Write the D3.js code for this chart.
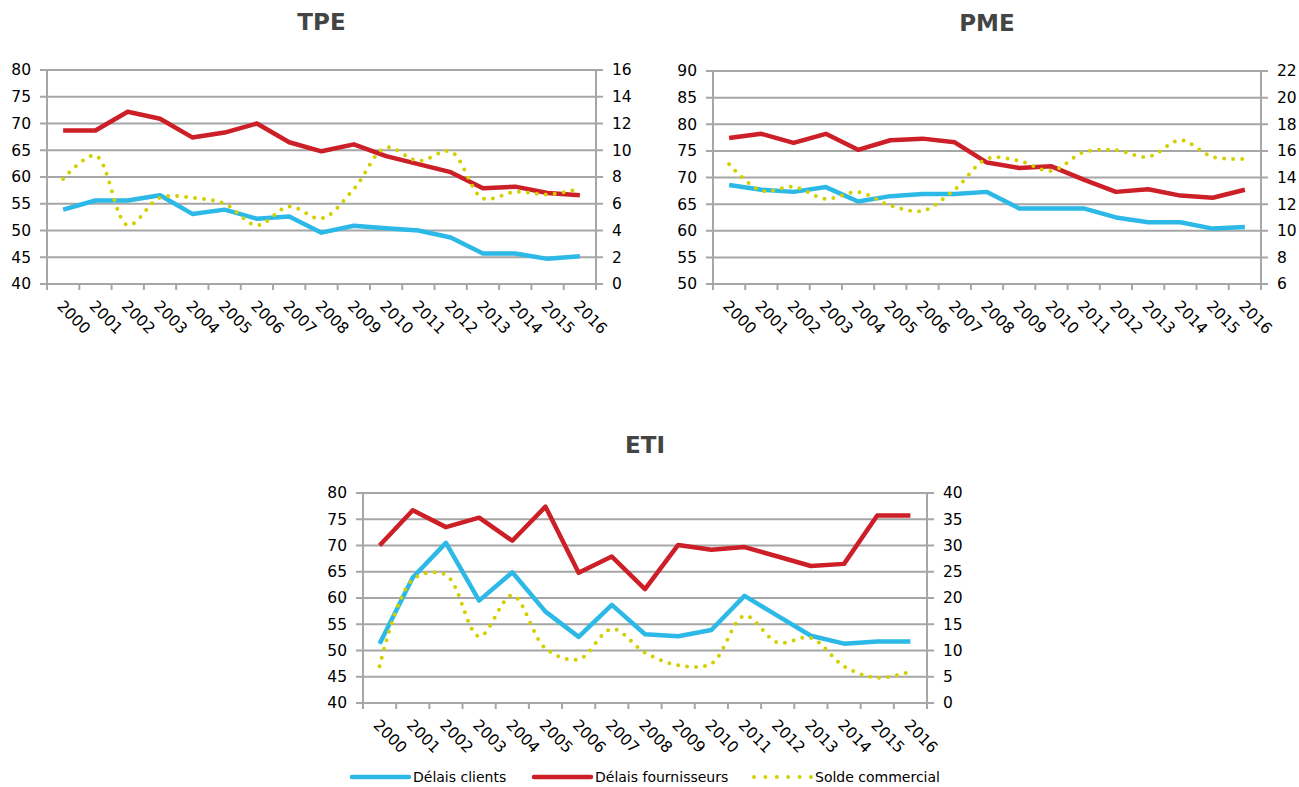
<!DOCTYPE html>
<html>
<head>
<meta charset="utf-8">
<script src="https://cdn.jsdelivr.net/npm/d3@7"></script>
<style>
	body{margin:0;background:#fff;}
	text{font-family:"DejaVu Sans",sans-serif;}
</style>
</head>
<body>
<script>
//Categories
const years = ['2000','2001','2002','2003','2004','2005','2006','2007','2008','2009','2010','2011','2012','2013','2014','2015','2016'];

//TPE
const tpeClients = [53.9, 55.6, 55.6, 56.6, 53.1, 53.9, 52.2, 52.6, 49.6, 50.9, 50.4, 50.0, 48.7, 45.7, 45.7, 44.7, 45.2];
const tpeFournisseurs = [68.7, 68.7, 72.2, 70.9, 67.4, 68.3, 70.0, 66.5, 64.8, 66.1, 63.9, 62.4, 60.9, 57.9, 58.2, 57.0, 56.6];
const tpeSolde = [7.85, 9.6, 4.4, 6.45, 6.45, 6.0, 4.4, 5.8, 4.9, 7.1, 10.2, 9.2, 9.9, 6.4, 6.9, 6.7, 7.1];
const tpeLeftTicks = [40, 45, 50, 55, 60, 65, 70, 75, 80];
const tpeRightTicks = [0, 2, 4, 6, 8, 10, 12, 14, 16];

//PME
const pmeClients = [68.6, 67.7, 67.3, 68.2, 65.5, 66.5, 66.9, 66.9, 67.3, 64.2, 64.2, 64.2, 62.5, 61.6, 61.6, 60.4, 60.7];
const pmeFournisseurs = [77.4, 78.2, 76.5, 78.2, 75.2, 77.0, 77.3, 76.6, 72.8, 71.8, 72.1, 69.6, 67.3, 67.8, 66.6, 66.2, 67.7];
const pmeSolde = [15.0, 13.0, 13.3, 12.4, 12.9, 11.9, 11.5, 13.1, 15.4, 15.25, 14.5, 15.9, 16.05, 15.55, 16.8, 15.55, 15.4];
const pmeLeftTicks = [50, 55, 60, 65, 70, 75, 80, 85, 90];
const pmeRightTicks = [6, 8, 10, 12, 14, 16, 18, 20, 22];

//ETI
const etiClients = [51.3, 63.9, 70.5, 59.5, 64.9, 57.4, 52.6, 58.7, 53.1, 52.7, 53.9, 60.4, 56.6, 52.8, 51.3, 51.7, 51.7];
const etiFournisseurs = [70.0, 76.7, 73.5, 75.3, 70.9, 77.4, 64.8, 67.9, 61.7, 70.1, 69.2, 69.7, 67.9, 66.1, 66.5, 75.7, 75.7];
const etiSolde = [7.0, 23.5, 24.4, 12.7, 20.5, 10.4, 8.3, 14.1, 9.6, 7.2, 7.5, 16.6, 11.5, 12.4, 7.0, 4.8, 6.0];
const etiLeftTicks = [40, 45, 50, 55, 60, 65, 70, 75, 80];
const etiRightTicks = [0, 5, 10, 15, 20, 25, 30, 35, 40];

//Legend
const seriesNames = ['Délais clients', 'Délais fournisseurs', 'Solde commercial'];

const colors = {clients:'#2cb9e8', fournisseurs:'#cc1f27', solde:'#d2d000'};
const gridColor = '#a6a6a6';

const svg = d3.select('body').append('svg')
	.attr('width', 1299)
	.attr('height', 787);

renderPanel(svg, {
	title:'TPE', x0:47, x1:596, y0:70, y1:284,
	leftTicks:tpeLeftTicks, rightTicks:tpeRightTicks,
	clients:tpeClients, fournisseurs:tpeFournisseurs, solde:tpeSolde
});
renderPanel(svg, {
	title:'PME', x0:713, x1:1261, y0:71, y1:284,
	leftTicks:pmeLeftTicks, rightTicks:pmeRightTicks,
	clients:pmeClients, fournisseurs:pmeFournisseurs, solde:pmeSolde
});
renderPanel(svg, {
	title:'ETI', x0:363, x1:927, y0:493, y1:703,
	leftTicks:etiLeftTicks, rightTicks:etiRightTicks,
	clients:etiClients, fournisseurs:etiFournisseurs, solde:etiSolde
});
renderLegend(svg);

function renderPanel(svg, p){
	const plot = svg.append('g').attr('class', 'panel');

	//Scales
	const x = d3.scaleBand().domain(years).range([p.x0, p.x1]).padding(0);
	const yLeft = d3.scaleLinear()
		.domain(d3.extent(p.leftTicks))
		.range([p.y1, p.y0]);
	const yRight = d3.scaleLinear()
		.domain(d3.extent(p.rightTicks))
		.range([p.y1, p.y0]);

	//Title
	plot.append('text')
		.attr('x', (p.x0 + p.x1)/2)
		.attr('y', p.y0 - 40)
		.attr('text-anchor', 'middle')
		.style('font-size', '23px')
		.style('font-weight', 'bold')
		.style('fill', '#444')
		.text(p.title);

	//Gridlines (they also make the outer ticks)
	plot.selectAll('.grid')
		.data(p.leftTicks)
		.enter()
		.append('line')
		.attr('class', 'grid')
		.attr('x1', p.x0 - 7)
		.attr('x2', p.x1 + 7)
		.attr('y1', d => yLeft(d))
		.attr('y2', d => yLeft(d))
		.style('stroke', gridColor)
		.style('stroke-width', '2px');

	//Vertical axis lines
	plot.selectAll('.vaxis')
		.data([p.x0, p.x1])
		.enter()
		.append('line')
		.attr('class', 'vaxis')
		.attr('x1', d => d)
		.attr('x2', d => d)
		.attr('y1', p.y0)
		.attr('y2', p.y1 + 1)
		.style('stroke', gridColor)
		.style('stroke-width', '2px');

	//Category boundary ticks
	const bounds = years.map(d => x(d)).concat([p.x1]);
	plot.selectAll('.xtick')
		.data(bounds)
		.enter()
		.append('line')
		.attr('class', 'xtick')
		.attr('x1', d => d)
		.attr('x2', d => d)
		.attr('y1', p.y1)
		.attr('y2', p.y1 + 6)
		.style('stroke', gridColor)
		.style('stroke-width', '2px');

	//Y labels
	const leftAxis = plot.append('g')
		.attr('transform', `translate(${p.x0},0)`)
		.call(d3.axisLeft(yLeft).tickValues(p.leftTicks).tickSize(0).tickPadding(16));
	const rightAxis = plot.append('g')
		.attr('transform', `translate(${p.x1},0)`)
		.call(d3.axisRight(yRight).tickValues(p.rightTicks).tickSize(0).tickPadding(16));
	[leftAxis, rightAxis].forEach(a => {
		a.select('.domain').remove();
		a.selectAll('text')
			.style('font-size', '15.5px')
			.style('fill', '#000')
			.style('font-family', '"DejaVu Sans",sans-serif');
	});

	//X labels, rotated
	plot.selectAll('.xlabel')
		.data(years)
		.enter()
		.append('text')
		.attr('class', 'xlabel')
		.attr('transform', d => `translate(${x(d) + x.bandwidth()/2 - 7},${p.y1 + 23}) rotate(45)`)
		.style('font-size', '15.5px')
		.style('fill', '#000')
		.text(d => d);

	//Lines
	const lineLeft = d3.line()
		.x((d, i) => x(years[i]) + x.bandwidth()/2)
		.y(d => yLeft(d));
	const lineRight = d3.line()
		.x((d, i) => x(years[i]) + x.bandwidth()/2)
		.y(d => yRight(d))
		.curve(d3.curveCatmullRom.alpha(0.5));

	plot.append('path')
		.datum(p.clients)
		.attr('d', lineLeft)
		.style('fill', 'none')
		.style('stroke', colors.clients)
		.style('stroke-width', '4.5px')
		.style('stroke-linejoin', 'round');

	plot.append('path')
		.datum(p.fournisseurs)
		.attr('d', lineLeft)
		.style('fill', 'none')
		.style('stroke', colors.fournisseurs)
		.style('stroke-width', '4.5px')
		.style('stroke-linejoin', 'round');

	plot.append('path')
		.datum(p.solde)
		.attr('d', lineRight)
		.style('fill', 'none')
		.style('stroke', colors.solde)
		.style('stroke-width', '4px')
		.style('stroke-linecap', 'round')
		.style('stroke-dasharray', '0 9');
}

function renderLegend(svg){
	const items = [
		{name:seriesNames[0], color:colors.clients, x:352, dotted:false},
		{name:seriesNames[1], color:colors.fournisseurs, x:534, dotted:false},
		{name:seriesNames[2], color:colors.solde, x:754, dotted:true}
	];
	const y = 777;
	const legend = svg.append('g').attr('class', 'legend');
	const item = legend.selectAll('.item')
		.data(items)
		.enter()
		.append('g')
		.attr('class', 'item');

	item.append('line')
		.attr('x1', d => d.x)
		.attr('x2', d => d.x + 57)
		.attr('y1', y)
		.attr('y2', y)
		.style('stroke', d => d.color)
		.style('stroke-width', d => d.dotted ? '4px' : '4.5px')
		.style('stroke-linecap', 'round')
		.style('stroke-dasharray', d => d.dotted ? '0 11.4' : null);

	item.append('text')
		.attr('x', d => d.x + 61)
		.attr('y', y + 5)
		.style('font-size', '14px')
		.style('fill', '#000')
		.text(d => d.name);
}
</script>
</body>
</html>
